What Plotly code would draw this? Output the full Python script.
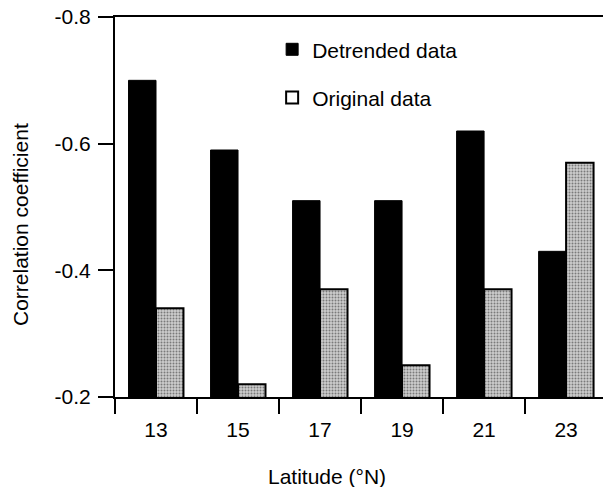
import plotly.graph_objects as go

latitudes = ["13", "15", "17", "19", "21", "23"]
detrended = [-0.70, -0.59, -0.51, -0.51, -0.62, -0.43]
original = [-0.34, -0.22, -0.37, -0.25, -0.37, -0.57]
y_ticks = [-0.8, -0.6, -0.4, -0.2]

FONT = "Liberation Sans, Arial, Helvetica, sans-serif"

fig = go.Figure()
fig.add_trace(go.Bar(
    x=latitudes, y=detrended, name="Detrended data",
    marker=dict(color="black", line=dict(color="black", width=1)),
    legendgroup="a", offsetgroup="a",
))
fig.add_trace(go.Bar(
    x=latitudes, y=original, name="Original data",
    marker=dict(color="#bcbcbc", line=dict(color="black", width=2),
                pattern=dict(shape=".", fgcolor="#7a7a7a", bgcolor="#cecece",
                             size=3, solidity=0.35, fillmode="replace")),
    legendgroup="b", offsetgroup="b", showlegend=False,
))
# legend entry for the stippled series (appears white in the printed legend)
fig.add_trace(go.Bar(
    x=[None], y=[None], name="Original data",
    marker=dict(color="white", line=dict(color="black", width=2)),
    legendgroup="b", offsetgroup="b",
))

fig.update_layout(
    width=603, height=487,
    margin=dict(l=115, r=0, t=17, b=90),
    paper_bgcolor="white", plot_bgcolor="white",
    barmode="group", bargap=0.33, bargroupgap=0,
    font=dict(family=FONT, color="black"),
    showlegend=True,
    legend=dict(x=0.322, y=0.968, xanchor="left", yanchor="top",
                font=dict(size=21, family=FONT), bgcolor="rgba(0,0,0,0)",
                tracegroupgap=18, traceorder="grouped"),
    xaxis=dict(
        type="category", range=[-0.5, 5.45],
        showline=True, linecolor="black", linewidth=2, mirror=True,
        ticks="outside", tickson="boundaries", ticklen=15, tickwidth=1.5,
        tickcolor="black", tickfont=dict(size=21), ticklabelstandoff=13,
        showgrid=False, zeroline=False,
    ),
    yaxis=dict(
        range=[-0.2, -0.8], tickvals=y_ticks, ticktext=[f"{v:.1f}" for v in y_ticks],
        showline=True, linecolor="black", linewidth=2,
        ticks="outside", ticklen=15, tickwidth=1.5, tickcolor="black",
        tickfont=dict(size=21), ticklabelstandoff=3,
        showgrid=False, zeroline=False,
    ),
    annotations=[
        dict(text="Latitude (°N)", xref="paper", yref="paper",
             x=(327 - 115) / 488, y=-(476 - 397) / 380, xanchor="center", yanchor="middle",
             showarrow=False, font=dict(size=21, family=FONT)),
        dict(text="Correlation coefficient", xref="paper", yref="paper",
             x=-(115 - 20) / 488, y=1 - (225 - 17) / 380, xanchor="center", yanchor="middle",
             textangle=-90, showarrow=False, font=dict(size=21, family=FONT)),
    ],
)

fig.write_html("out.html")
